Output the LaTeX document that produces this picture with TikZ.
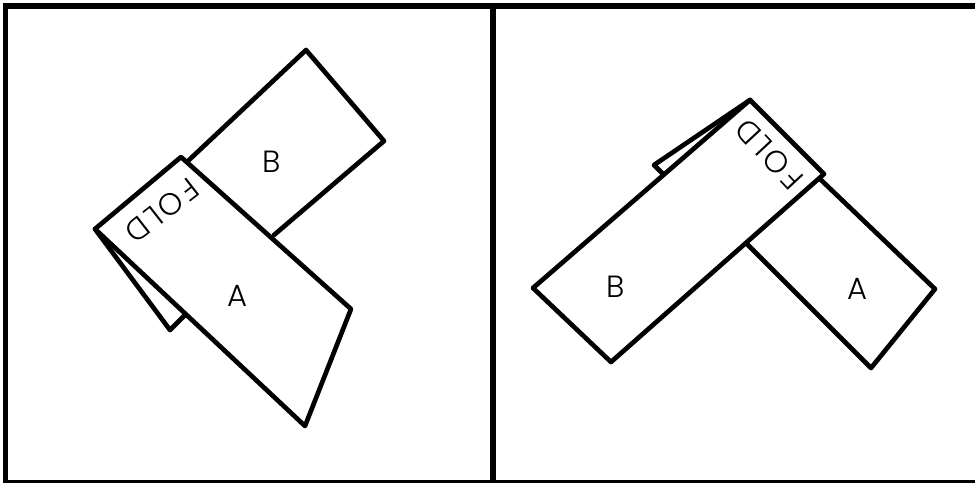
\documentclass[tikz,border=0pt]{standalone}
\usepackage{fontspec}
\setmainfont{Poppins}[UprightFont=* Light]
\newfontfamily\foldfont{Poppins}[UprightFont=* Light, LetterSpace=10]
\begin{document}
\begin{tikzpicture}[
  x=0.75pt, y=-0.75pt,
  panel/.style={line width=4pt},
  edgeline/.style={line width=2.25pt},
  sheet/.style={line width=3.5pt, line join=round, line cap=round},
  lbl/.style={font=\fontsize{23}{23}\selectfont, inner sep=0pt},
  foldlbl/.style={font=\foldfont\fontsize{23}{23}\selectfont, inner sep=0pt},
]
\useasboundingbox (0,0) rectangle (975,483);

%% ---- panels ---------------------------------------------------------------
\draw[panel] (975,6) -- (5.3,6) -- (5.3,483);
\draw[edgeline] (5.3,481.5) -- (975,481.5);
\draw[panel] (492.9,6) -- (492.9,481);

%% ---- left panel -----------------------------------------------------------
\draw[sheet] (189,160) -- (306,50) -- (384,141) -- (274,235);
\draw[sheet] (95,229) -- (170,330) -- (185,315);
\draw[sheet] (95,229) -- (181,157) -- (351,309) -- (305,426) -- cycle;
\node[lbl] (labelBL) at (271.5,162) {B};
\node[lbl] (labelAL) at (237.5,295.5) {A};
\node[foldlbl, rotate=218] (foldL) at (162,211) {FOLD};

%% ---- right panel ----------------------------------------------------------
\draw[sheet] (820,179) -- (935,289) -- (871,368) -- (747,244);
\draw[sheet] (750,100) -- (654,165) -- (663,174);
\draw[sheet] (750,100) -- (824,174) -- (611,362) -- (533,288) -- cycle;
\node[lbl] (labelBR) at (616,287) {B};
\node[lbl] (labelAR) at (857,289) {A};
\node[foldlbl, rotate=133] (foldR) at (769,154) {FOLD};

\end{tikzpicture}
\end{document}
